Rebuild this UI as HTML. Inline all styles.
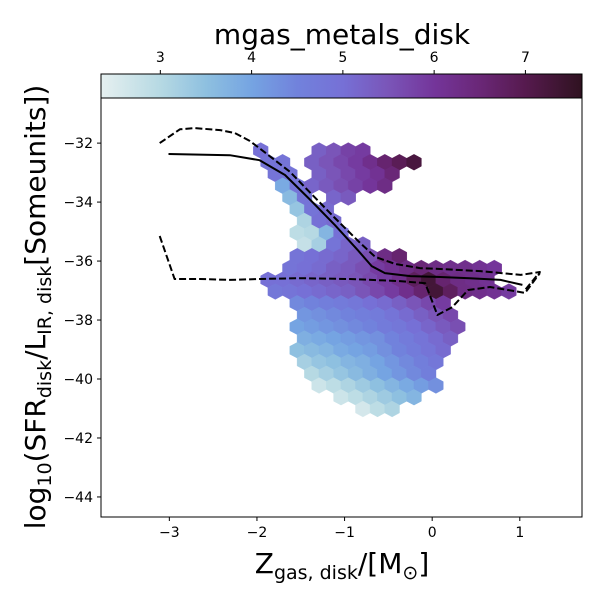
<!DOCTYPE html>
<html><head><meta charset="utf-8"><style>
html,body{margin:0;padding:0;background:#fff}
svg{display:block;font-family:"DejaVu Sans","Liberation Sans",sans-serif}
</style></head><body>
<svg id="chart" width="600" height="600" viewBox="0 0 600 600">
<defs>
<linearGradient id="cbgrad" x1="0" x2="1" y1="0" y2="0"></linearGradient>
<clipPath id="plotclip"><rect x="101" y="98" width="481" height="419"/></clipPath>
</defs>
<g id="cbar"></g>
<g id="plot"></g>
<text x="342" y="573" text-anchor="middle" font-size="28">Z<tspan font-size="19" dy="6">gas, disk</tspan><tspan dy="-6">/[M</tspan><tspan font-size="19" dy="6">⊙</tspan><tspan dy="-6">]</tspan></text>
<text transform="translate(45,307) rotate(-90)" text-anchor="middle" font-size="28">log<tspan font-size="19" dy="6">10</tspan><tspan dy="-6">(SFR</tspan><tspan font-size="19" dy="6">disk</tspan><tspan dy="-6">/L</tspan><tspan font-size="19" dy="6">IR, disk</tspan><tspan dy="-6">[Someunits])</tspan></text>
</svg>
<script>
// ---- data ----
const xTicks = [-3, -2, -1, 0, 1];
const yTicks = [-32, -34, -36, -38, -40, -42, -44];
const cbTicks = [3, 4, 5, 6, 7];
// hexbin rows: each row = [rowIndex, startCol, values...]
const hexRows = [
  [0, 0, 5.0], [0, 4, 5.3, 5.5, 5.8, 5.9],
  [1, 0, 4.9, 4.9], [1, 3, 5.3, 5.5, 5.7, 5.9, 6.2, 6.6, 6.9, 7.2],
  [2, 1, 4.9, 4.9], [2, 4, 5.3, 5.5, 5.7, 5.9, 6.1, 6.5],
  [3, 1, 3.9, 4.9], [3, 3, 5.2, 5.4, 5.6, 5.8, 6.0, 6.3],
  [4, 2, 3.6, 4.9], [4, 5, 5.2, 5.4],
  [5, 2, 3.4, 4.9, 5.1],
  [6, 3, 3.1, 5.0, 5.1],
  [7, 2, 2.9, 3.0, 3.7, 5.0],
  [8, 3, 2.8, 3.2, 4.9, 5.2, 5.3],
  [9, 2, 4.9, 5.0, 5.1, 5.2, 5.4, 5.6, 6.3, 6.6],
  [10, 2, 4.9, 5.0, 5.1, 5.3, 5.4, 5.6, 5.9, 6.1, 6.3, 6.5, 6.3, 6.2, 6.2, 6.1, 6.0],
  [11, 0, 5.0, 5.0, 5.1, 5.2, 5.3, 5.4, 5.5, 5.7, 5.9, 6.2, 6.8, 7.3, 6.6, 6.3, 6.2, 6.1],
  [12, 1, 4.8, 4.9, 5.0, 5.1, 5.2, 5.3, 5.5, 5.7, 5.9, 6.2, 6.6, 7.3, 6.8, 6.3, 6.2, 6.1, 5.9],
  [13, 2, 4.4, 4.5, 4.6, 4.7, 4.8, 5.0, 5.1, 5.3, 5.5, 5.7, 5.9],
  [14, 3, 4.2, 4.3, 4.4, 4.5, 4.6, 4.7, 4.9, 5.1, 5.3, 5.5, 5.7],
  [15, 2, 4.0, 4.1, 4.2, 4.3, 4.4, 4.5, 4.7, 4.8, 5.0, 5.2, 5.4, 5.6],
  [16, 3, 3.8, 3.9, 4.0, 4.1, 4.2, 4.3, 4.5, 4.7, 4.9, 5.1, 5.3],
  [17, 2, 3.5, 3.6, 3.7, 3.9, 4.0, 4.1, 4.3, 4.5, 4.7, 4.9, 5.1],
  [18, 3, 3.2, 3.4, 3.5, 3.7, 3.8, 4.0, 4.2, 4.4, 4.6, 4.8],
  [19, 3, 3.0, 3.2, 3.4, 3.6, 3.8, 4.0, 4.2, 4.4, 4.6],
  [20, 4, 2.7, 2.9, 3.1, 3.3, 3.5, 3.7, 3.9, 4.1, 4.3],
  [21, 5, 2.7, 2.9, 3.1, 3.3, 3.5, 3.7],
  [22, 7, 2.6, 2.9, 3.1]
];
const medX = [-3.01, -2.31, -1.97, -1.68, -1.39, -1.11, -0.85, -0.69, -0.54, -0.25, 0.09, 0.43, 0.78, 1.03];
const medY = [-32.37, -32.41, -32.58, -33.08, -33.93, -34.78, -35.63, -36.17, -36.41, -36.51, -36.54, -36.58, -36.64, -36.81];
const upX = [-3.11, -2.88, -2.71, -2.42, -2.25, -2.08, -1.91, -1.62, -1.39, -1.11, -0.82, -0.65, -0.42, -0.14, 0.09, 0.55, 1.01, 1.23, 1.06];
const upY = [-32.0, -31.53, -31.49, -31.56, -31.66, -31.93, -32.31, -32.98, -33.69, -34.54, -35.39, -35.86, -36.10, -36.24, -36.27, -36.34, -36.47, -36.37, -36.98];
const loX = [-3.11, -2.94, -2.65, -2.31, -1.97, -1.51, -0.94, -0.37, -0.08, 0.06, 0.23, 0.41, 0.66, 1.06, 1.23];
const loY = [-35.15, -36.61, -36.61, -36.64, -36.61, -36.58, -36.61, -36.68, -36.75, -37.83, -37.56, -36.98, -36.88, -37.08, -36.41];

// ---- scales ----
const PX0 = 101, PX1 = 582, PY0 = 98, PY1 = 517;
const xMin = -3.78, xMax = 1.71, yMin = -44.68, yMax = -30.47;
const cMin = 2.35, cMax = 7.62;
const sx = v => PX0 + (v - xMin) / (xMax - xMin) * (PX1 - PX0);
const sy = v => PY1 - (v - yMin) / (yMax - yMin) * (PY1 - PY0);
const sc = v => PX0 + (v - cMin) / (cMax - cMin) * (PX1 - PX0);
const stops = [[2.35,[230,240,240]],[3.0,[182,217,227]],[3.5,[142,192,224]],[4.0,[117,164,226]],[4.5,[113,130,220]],[5.0,[118,112,214]],[5.5,[122,85,184]],[6.0,[116,53,154]],[6.5,[106,39,119]],[7.0,[86,26,78]],[7.62,[47,18,32]]];
function cmap(v){
  if(v<=stops[0][0]) return 'rgb('+stops[0][1]+')';
  for(let i=1;i<stops.length;i++){
    if(v<=stops[i][0]){const a=stops[i-1],b=stops[i],t=(v-a[0])/(b[0]-a[0]);
      return 'rgb('+a[1].map((c,k)=>Math.round(c+(b[1][k]-c)*t)).join(',')+')';}
  }
  return 'rgb('+stops[stops.length-1][1]+')';
}
const NS='http://www.w3.org/2000/svg';
function mk(tag, attrs, parent){const e=document.createElementNS(NS,tag);for(const k in attrs)e.setAttribute(k,attrs[k]);parent.appendChild(e);return e;}

// ---- colorbar ----
const grad=document.getElementById('cbgrad');
stops.forEach(s=>{mk('stop',{offset:((s[0]-cMin)/(cMax-cMin)),'stop-color':cmap(s[0])},grad);});
const cb=document.getElementById('cbar');
const cbRect=mk('rect',{x:101,y:74,width:481,height:24,fill:'url(#cbgrad)',stroke:'#000','stroke-width':1},cb);


cbTicks.forEach(t=>{
  const g=mk('g',{},cb);
  
  
  mk('line',{x1:sc(t),x2:sc(t),y1:74,y2:70,stroke:'#000'},g);
  const tx=mk('text',{x:sc(t),y:62,'text-anchor':'middle','font-size':14},g);tx.textContent=t;
});
const cbl=mk('text',{x:342,y:44,'text-anchor':'middle','font-size':28},cb);
cbl.textContent='mgas_metals_disk';



// ---- plot ----
const plot=document.getElementById('plot');
const hexG=mk('g',{'clip-path':'url(#plotclip)'},plot);


const HX0=260.7, HDX=14.6, HY0=150.5, HDY=11.75, HW=7.4, HH=7.9;
hexRows.forEach(r=>{
  const j=r[0], c0=r[1];
  for(let k=2;k<r.length;k++){
    const c=c0+k-2;
    const cx=HX0+HDX*c+(j%2?HDX/2:0), cy=HY0+HDY*j;
    const pts=[[0,-HH],[HW,-HH/2],[HW,HH/2],[0,HH],[-HW,HH/2],[-HW,-HH/2]].map(p=>(cx+p[0]).toFixed(1)+','+(cy+p[1]).toFixed(1)).join(' ');
    const h=mk('polygon',{points:pts,fill:cmap(r[k]),stroke:cmap(r[k]),'stroke-width':0.4},hexG);
    
    
  }
});
function line(xs,ys,dash,name){
  const d=xs.map((x,i)=>(i?'L':'M')+sx(x).toFixed(1)+','+sy(ys[i]).toFixed(1)).join(' ');
  const p=mk('path',{d:d,fill:'none',stroke:'#000','stroke-width':2,'stroke-linejoin':'round','stroke-dasharray':dash||'none','clip-path':'url(#plotclip)'},plot);
  
  
}
line(medX,medY,null,'median-line');
line(upX,upY,'7,3','upper-percentile-line');
line(loX,loY,'7,3','lower-percentile-line');
const frame=mk('rect',{x:101,y:98,width:481,height:419,fill:'none',stroke:'#000','stroke-width':1},plot);


xTicks.forEach(t=>{
  const g=mk('g',{},plot);
  
  
  mk('line',{x1:sx(t),x2:sx(t),y1:517,y2:521,stroke:'#000'},g);
  const tx=mk('text',{x:sx(t),y:537,'text-anchor':'middle','font-size':14},g);tx.textContent=(t<0?'\u2212'+(-t):t);
});
yTicks.forEach(t=>{
  const g=mk('g',{},plot);
  
  
  mk('line',{x1:101,x2:97,y1:sy(t),y2:sy(t),stroke:'#000'},g);
  const tx=mk('text',{x:93,y:sy(t)+5,'text-anchor':'end','font-size':14},g);tx.textContent='\u2212'+(-t);
});
</script>
</body></html>
